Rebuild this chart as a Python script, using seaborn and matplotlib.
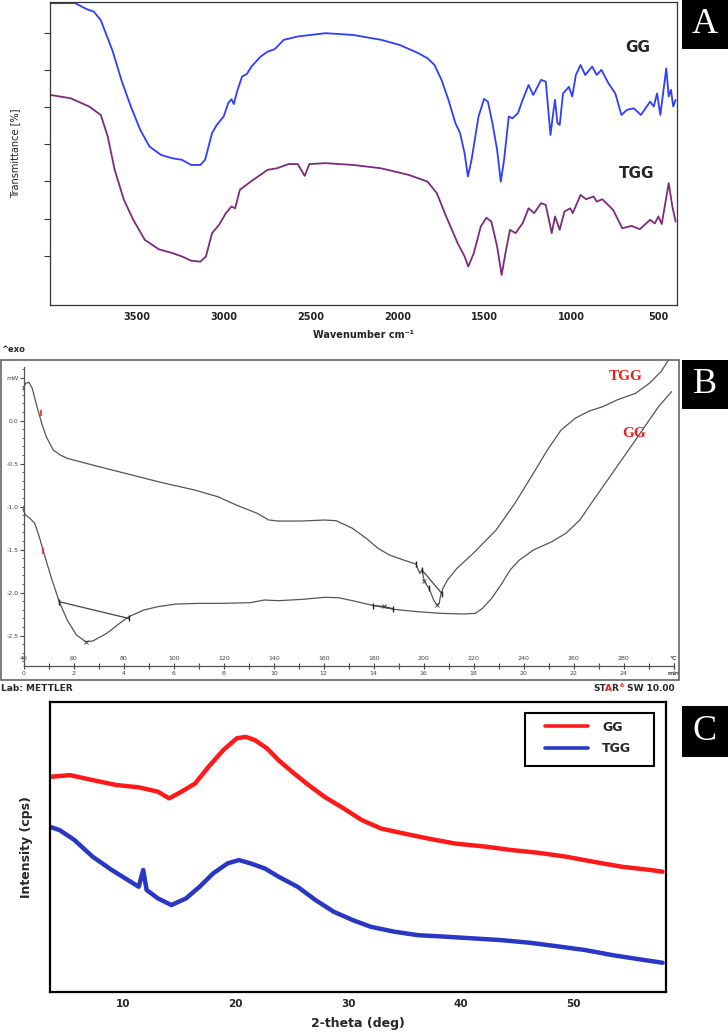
import numpy as np
import pandas as pd
import matplotlib
matplotlib.use("Agg")
import matplotlib.pyplot as plt
import seaborn as sns
from matplotlib.patches import Rectangle
from matplotlib.ticker import FixedLocator, FuncFormatter

# ---------------- Panel A : FTIR ----------------
ftir_gg_wn = [3996, 3855, 3788, 3748, 3708, 3641, 3588, 3535, 3481, 3428, 3361, 3295, 3241, 3188,
              3135, 3108, 3068, 3041, 3001, 2975, 2956, 2943, 2921, 2895, 2868, 2841, 2788, 2748,
              2708, 2655, 2575, 2415, 2255, 2095, 1988, 1881, 1828, 1788, 1748, 1708, 1668, 1641,
              1615, 1596, 1575, 1535, 1503, 1481, 1455, 1428, 1407, 1388, 1361, 1340, 1308, 1281,
              1247, 1220, 1175, 1148, 1121, 1108, 1095, 1081, 1068, 1049, 1015, 996, 975, 948,
              921, 881, 855, 828, 788, 748, 713, 681, 641, 601, 548, 527, 508, 489, 455, 441,
              428, 415, 401]
ftir_gg_t = [99.6, 99.6, 97.6, 96.8, 94.0, 84.0, 74.0, 65.5, 57.8, 52.3, 49.5, 48.4, 47.9, 46.2,
             46.2, 47.9, 56.7, 59.4, 62.2, 66.6, 67.9, 66.3, 71.0, 75.4, 76.2, 78.7, 82.0, 83.6,
             84.4, 87.5, 88.6, 89.7, 89.1, 87.5, 85.8, 83.1, 81.4, 79.2, 74.3, 67.7, 60.0, 56.7,
             50.0, 42.4, 47.9, 62.2, 68.0, 67.1, 60.0, 51.2, 40.7, 47.9, 62.2, 61.6, 63.3, 67.7,
             72.6, 69.3, 74.3, 73.7, 56.1, 62.2, 67.7, 60.0, 59.4, 69.8, 72.0, 68.8, 75.9, 79.2,
             75.9, 78.7, 75.9, 77.6, 73.2, 69.8, 62.7, 64.4, 64.9, 62.7, 67.1, 65.5, 69.8, 62.7,
             78.1, 68.8, 71.0, 65.5, 67.7]
ftir_tgg_wn = [3996, 3881, 3775, 3708, 3668, 3628, 3575, 3521, 3455, 3375, 3295, 3241, 3188, 3135,
               3103, 3068, 3028, 2988, 2956, 2935, 2908, 2841, 2748, 2695, 2628, 2575, 2535, 2508,
               2415, 2255, 2095, 1935, 1828, 1775, 1721, 1655, 1615, 1594, 1562, 1522, 1490, 1461,
               1428, 1402, 1380, 1354, 1322, 1281, 1247, 1215, 1175, 1148, 1114, 1095, 1068, 1041,
               1007, 993, 948, 916, 873, 855, 823, 761, 708, 655, 607, 548, 521, 500, 481, 441,
               420, 401]
ftir_tgg_t = [69.3, 68.2, 65.5, 62.7, 55.6, 44.6, 34.7, 28.1, 21.5, 18.4, 17.1, 16.0, 14.6, 14.3,
              16.0, 23.7, 26.4, 30.3, 32.5, 31.9, 38.0, 40.9, 44.6, 45.1, 46.5, 46.5, 42.6, 46.5,
              46.8, 46.2, 45.1, 42.9, 40.7, 36.9, 29.2, 20.4, 16.0, 12.7, 17.1, 25.9, 28.8, 27.5,
              19.3, 9.9, 17.1, 24.8, 23.7, 27.0, 31.9, 30.3, 33.6, 33.0, 23.7, 29.2, 24.8, 30.8,
              31.9, 30.3, 36.3, 34.9, 35.8, 34.1, 34.9, 31.4, 25.3, 26.1, 25.0, 28.1, 26.9, 29.2,
              26.7, 40.2, 32.5, 27.5]
ftir_xticks = [3500, 3000, 2500, 2000, 1500, 1000, 500]

# ---------------- Panel B : DSC ----------------
dsc_tgg_T = [39.6, 40.6, 42.0, 43.3, 45.2, 47.1, 48.9, 51.7, 54.5, 57.3, 67.5, 80.5, 95.3, 108.3,
             117.6, 125.0, 133.4, 138.0, 141.8, 151.0, 160.3, 165.0, 171.5, 177.0, 181.7, 186.3,
             191.9, 196.9, 198.4, 199.3, 200.3, 202.1, 204.0, 205.3, 206.2, 206.8, 207.7, 209.5,
             213.3, 219.8, 229.0, 236.5, 243.9, 249.5, 255.0, 260.6, 266.2, 271.7, 277.3, 284.8,
             290.3, 295.0, 297.8]
dsc_tgg_mw = [0.357, 0.434, 0.446, 0.376, 0.163, -0.031, -0.186, -0.341, -0.399, -0.438, -0.516,
              -0.612, -0.721, -0.806, -0.884, -0.981, -1.078, -1.155, -1.167, -1.167, -1.155,
              -1.163, -1.252, -1.368, -1.484, -1.562, -1.620, -1.667, -1.775, -1.736, -1.872,
              -1.950, -2.085, -2.143, -2.124, -2.027, -1.950, -1.853, -1.717, -1.543, -1.271,
              -0.961, -0.612, -0.341, -0.109, 0.027, 0.112, 0.163, 0.240, 0.318, 0.434, 0.570,
              0.698]
dsc_gg_T = [39.6, 40.6, 42.4, 44.3, 46.1, 48.0, 50.8, 54.1, 57.3, 61.0, 64.7, 67.5, 73.1, 78.6,
            82.0, 87.9, 93.5, 100.9, 110.2, 119.5, 130.6, 136.2, 141.8, 151.0, 160.3, 165.9,
            171.5, 178.9, 188.2, 197.5, 206.8, 216.0, 220.7, 223.5, 227.2, 230.9, 234.6, 238.3,
            243.9, 251.3, 256.9, 262.5, 268.0, 273.6, 279.2, 284.8, 290.3, 294.0, 299.2]
dsc_gg_mw = [-1.031, -1.097, -1.136, -1.194, -1.349, -1.543, -1.814, -2.105, -2.318, -2.492,
             -2.570, -2.562, -2.473, -2.349, -2.279, -2.202, -2.163, -2.132, -2.124, -2.124,
             -2.116, -2.085, -2.093, -2.078, -2.054, -2.058, -2.093, -2.143, -2.194, -2.221,
             -2.240, -2.248, -2.240, -2.182, -2.066, -1.911, -1.736, -1.620, -1.504, -1.407,
             -1.310, -1.155, -0.922, -0.690, -0.457, -0.225, 0.008, 0.163, 0.337]
# evaluation baselines / limits
gg_base1_T = [54.1, 82.0]
gg_base1_mw = [-2.105, -2.300]
gg_base2_T = [179.6, 184.0, 187.6]
gg_base2_mw = [-2.150, -2.160, -2.185]
tgg_base_T = [199.3, 207.3]
tgg_base_mw = [-1.736, -2.010]
limit_T = [54.1, 82.0, 179.6, 187.6, 196.9, 199.3, 202.1, 207.3]
limit_mw = [-2.105, -2.300, -2.150, -2.185, -1.667, -1.736, -1.950, -2.010]
peak_T = [64.7, 205.3, 184.0, 200.3]
peak_mw = [-2.570, -2.143, -2.160, -1.860]
red_T = [46.7, 40.0, 47.6]
red_mw = [0.085, -1.030, -1.510]
dsc_temp_ticks = list(range(40, 301, 20))
dsc_min_ticks = list(range(0, 27, 2))
dsc_y_ticks = [-2.5, -2.0, -1.5, -1.0, -0.5, 0.0, 0.5]

# ---------------- Panel C : XRD ----------------
xrd_gg_2t = [3.5, 5.3, 7.3, 9.4, 11.4, 13.1, 14.1, 15.2, 16.4, 17.6, 18.9, 20.1, 20.9, 21.7, 22.8,
             23.8, 25.0, 26.3, 27.9, 29.6, 31.2, 32.9, 34.9, 37.0, 39.5, 42.3, 44.4, 46.9, 49.3,
             51.8, 54.3, 56.8, 57.9]
xrd_gg_i = [74.1, 74.7, 73.0, 71.3, 70.5, 69.0, 66.7, 69.0, 71.8, 77.6, 83.3, 87.4, 87.9, 86.8,
            83.9, 79.9, 75.9, 71.8, 67.2, 63.2, 59.2, 56.3, 54.6, 52.9, 51.1, 50.0, 48.9, 47.9,
            46.6, 44.8, 43.1, 42.0, 41.4]
xrd_tgg_2t = [3.5, 4.4, 5.7, 7.3, 9.0, 10.2, 11.4, 11.8, 12.1, 13.1, 14.3, 15.6, 16.8, 18.0, 19.3,
              20.3, 21.3, 22.6, 23.8, 25.5, 27.1, 28.7, 30.4, 32.0, 34.1, 36.2, 38.6, 41.1, 43.6,
              46.1, 48.5, 51.0, 53.5, 56.0, 57.9]
xrd_tgg_i = [56.9, 55.7, 52.3, 46.6, 42.0, 39.1, 36.2, 42.0, 35.1, 32.2, 29.9, 32.2, 36.2, 40.8,
             44.3, 45.4, 44.3, 42.5, 39.7, 36.2, 31.6, 27.6, 24.7, 22.4, 20.7, 19.5, 19.0, 18.4,
             17.8, 16.9, 15.7, 14.4, 12.6, 11.1, 10.0]
xrd_xticks = [10, 20, 30, 40, 50]

sns.set_style("white")
plt.rcParams['font.family'] = ['DejaVu Sans']

fig = plt.figure(figsize=(7.28, 10.32), dpi=100)

# ======== Panel A ========
axA = fig.add_axes([0.0687, 0.7045, 0.8613, 0.2936])
sns.lineplot(x=ftir_gg_wn, y=ftir_gg_t, ax=axA, color="#2f3dff", lw=1.3, sort=False, estimator=None)
sns.lineplot(x=ftir_tgg_wn, y=ftir_tgg_t, ax=axA, color="#7d2a7d", lw=1.3, sort=False, estimator=None)
axA.set_xlim(4000, 393)
axA.set_ylim(0, 100)
axA.set_xticks(ftir_xticks)
axA.set_xticklabels([str(v) for v in ftir_xticks], fontsize=7, fontweight='bold', color='#222')
axA.set_yticks([16.2, 28.5, 40.8, 53.1, 65.3, 77.6, 89.8])
axA.set_yticklabels([])
axA.tick_params(axis='y', direction='out', length=4, width=0.8, left=True, color='#333')
axA.tick_params(axis='x', length=0, pad=5)
for s in axA.spines.values():
    s.set_color('#333'); s.set_linewidth(0.9)
axA.set_xlabel("Wavenumber cm⁻¹", fontsize=7, fontweight='bold', color='#222', labelpad=6)
axA.set_ylabel("Transmittance [%]", fontsize=7, color='#222', labelpad=14)
fig.text(0.876, 0.954, "GG", fontsize=11, fontweight='bold', ha='center', va='center')
fig.text(0.875, 0.832, "TGG", fontsize=11, fontweight='bold', ha='center', va='center')

# ======== Panel B ========
axB = fig.add_axes([0.0014, 0.3411, 0.9313, 0.3101])
ylo, yhi = -3.015, 0.706
ybase = -2.858
sns.lineplot(x=dsc_tgg_T, y=dsc_tgg_mw, ax=axB, color="#555555", lw=0.9, sort=False, estimator=None)
sns.lineplot(x=dsc_gg_T, y=dsc_gg_mw, ax=axB, color="#555555", lw=0.9, sort=False, estimator=None)
sns.lineplot(x=gg_base1_T, y=gg_base1_mw, ax=axB, color="#444444", lw=0.9, sort=False, estimator=None)
sns.lineplot(x=gg_base2_T, y=gg_base2_mw, ax=axB, color="#444444", lw=0.9, sort=False, estimator=None)
sns.lineplot(x=tgg_base_T, y=tgg_base_mw, ax=axB, color="#444444", lw=0.9, sort=False, estimator=None)
axB.plot(limit_T, limit_mw, ls='none', marker='|', ms=5, mew=1.0, color='#222')
axB.plot(peak_T, peak_mw, ls='none', marker='x', ms=3, mew=0.6, color='#333')
axB.plot(red_T, red_mw, ls='none', marker='|', ms=4, mew=1.2, color='#ff2020')
axB.set_xlim(30.8, 302.2)
axB.set_ylim(ylo, yhi)
for side in ['bottom', 'right']:
    axB.spines[side].set_visible(False)
axB.spines['top'].set_position(('data', ybase))
axB.spines['top'].set_bounds(40, 300)
axB.spines['top'].set_color('#555'); axB.spines['top'].set_linewidth(0.9)
axB.spines['left'].set_position(('data', 40))
axB.spines['left'].set_bounds(ybase, 0.62)
axB.spines['left'].set_color('#555'); axB.spines['left'].set_linewidth(0.9)
axB.xaxis.set_ticks_position('top')
axB.xaxis.set_major_locator(FixedLocator(dsc_temp_ticks + [300]))
axB.xaxis.set_minor_locator(FixedLocator(list(range(50, 300, 20))))
axB.xaxis.set_major_formatter(FuncFormatter(lambda v, p: '°C' if v >= 300 else f'{int(v)}'))
axB.tick_params(axis='x', which='both', direction='inout', length=5, width=0.8,
                labelsize=4.5, pad=1.5, colors='#444')
axB.yaxis.set_ticks_position('left')
axB.yaxis.set_major_locator(FixedLocator(dsc_y_ticks))
axB.yaxis.set_minor_locator(FixedLocator(list(np.round(np.arange(-2.8, 0.61, 0.1), 2))))
axB.yaxis.set_major_formatter(FuncFormatter(lambda v, p: 'mW' if v > 0.4 else f'{v:.1f}'))
axB.tick_params(axis='y', which='major', direction='out', length=3, width=0.8,
                labelsize=4.5, pad=1, colors='#444')
axB.tick_params(axis='y', which='minor', direction='out', length=1.5, width=0.6, colors='#444')
loc_frac = (ybase - ylo) / (yhi - ylo)
secB = axB.secondary_xaxis(loc_frac, functions=(lambda T: (T - 40) / 10.0, lambda m: m * 10.0 + 40))
secB.xaxis.set_major_locator(FixedLocator(dsc_min_ticks + [26]))
secB.xaxis.set_major_formatter(FuncFormatter(lambda v, p: 'min' if v >= 26 else f'{int(v)}'))
secB.tick_params(axis='x', length=0, labelsize=4.5, pad=3, colors='#444')
for s in secB.spines.values():
    s.set_visible(False)
axB.add_patch(Rectangle((0, 0), 1, 1, transform=axB.transAxes, fill=False,
                        ec='#666', lw=1.2, clip_on=False))
fig.text(0.860, 0.6347, "TGG", fontsize=11, fontweight='bold', color='#ee1c1c',
         family='Liberation Serif', ha='center', va='center')
fig.text(0.871, 0.5795, "GG", fontsize=11, fontweight='bold', color='#ee1c1c',
         family='Liberation Serif', ha='center', va='center')
fig.text(0.002, 0.661, "^exo", fontsize=6, fontweight='bold', ha='left', va='center')
fig.text(0.002, 0.3333, "Lab: METTLER", fontsize=6.5, fontweight='bold', ha='left', va='center')
W = fig.bbox.width
t1 = fig.text(0.8146, 0.3333, "ST", fontsize=6.5, fontweight='bold', ha='left', va='center')
fig.canvas.draw()
r = fig.canvas.get_renderer()
bb = t1.get_window_extent(r)
t2 = fig.text((bb.x1 - 0.8) / W, 0.3333, "A", fontsize=6.5, fontweight='bold',
              color='#ee1c1c', va='center')
bb = t2.get_window_extent(r)
t3 = fig.text((bb.x1 - 0.8) / W, 0.3333, "R", fontsize=6.5, fontweight='bold', va='center')
bb = t3.get_window_extent(r)
t4 = fig.text((bb.x1 - 0.3) / W, 0.3355, "®", fontsize=4.5, fontweight='bold',
              color='#ee1c1c', va='center')
bb = t4.get_window_extent(r)
fig.text(bb.x1 / W, 0.3333, " SW 10.00", fontsize=6.5, fontweight='bold', va='center')

# ======== Panel C ========
axC = fig.add_axes([0.0683, 0.0390, 0.8465, 0.2810])
sns.lineplot(x=xrd_gg_2t, y=xrd_gg_i, ax=axC, color="#ff1a1a", lw=3.2, sort=False,
             estimator=None, label="GG")
sns.lineplot(x=xrd_tgg_2t, y=xrd_tgg_i, ax=axC, color="#2a36c4", lw=3.2, sort=False,
             estimator=None, label="TGG")
axC.set_xlim(3.5, 58.2)
axC.set_ylim(0, 100)
axC.set_xticks(xrd_xticks)
axC.set_xticklabels([str(v) for v in xrd_xticks], fontsize=7.5, fontweight='bold')
axC.set_yticks([])
axC.tick_params(axis='x', length=0, pad=5)
for s in axC.spines.values():
    s.set_color('black'); s.set_linewidth(1.6)
axC.set_xlabel("2-theta (deg)", fontsize=9, fontweight='bold', labelpad=6)
axC.set_ylabel("Intensity (cps)", fontsize=9, fontweight='bold', labelpad=12)
leg = axC.legend(loc='upper left', bbox_to_anchor=(0.803, 0.935), fancybox=False,
                 prop={'weight': 'bold', 'size': 9}, handlelength=3.5, handletextpad=1.1,
                 borderpad=0, labelspacing=0.7, borderaxespad=0, frameon=False)
for h in leg.get_lines():
    h.set_linewidth(2.6)
axC.add_patch(Rectangle((0.771, 0.778), 0.2095, 0.183, transform=axC.transAxes, fill=False,
                        ec='black', lw=1.5, zorder=6))

# ======== Letter boxes ========
for (yb, h, letter) in [(0.9525, 0.0475, "A"), (0.6037, 0.0475, "B"), (0.2665, 0.0494, "C")]:
    fig.patches.append(Rectangle((0.9368, yb), 0.0632, h, transform=fig.transFigure,
                                 facecolor='black', edgecolor='none'))
    fig.text(0.9684, yb + h / 2, letter, color='white', fontsize=26, family='Liberation Serif',
             ha='center', va='center')

fig.savefig("out.png", dpi=100)
